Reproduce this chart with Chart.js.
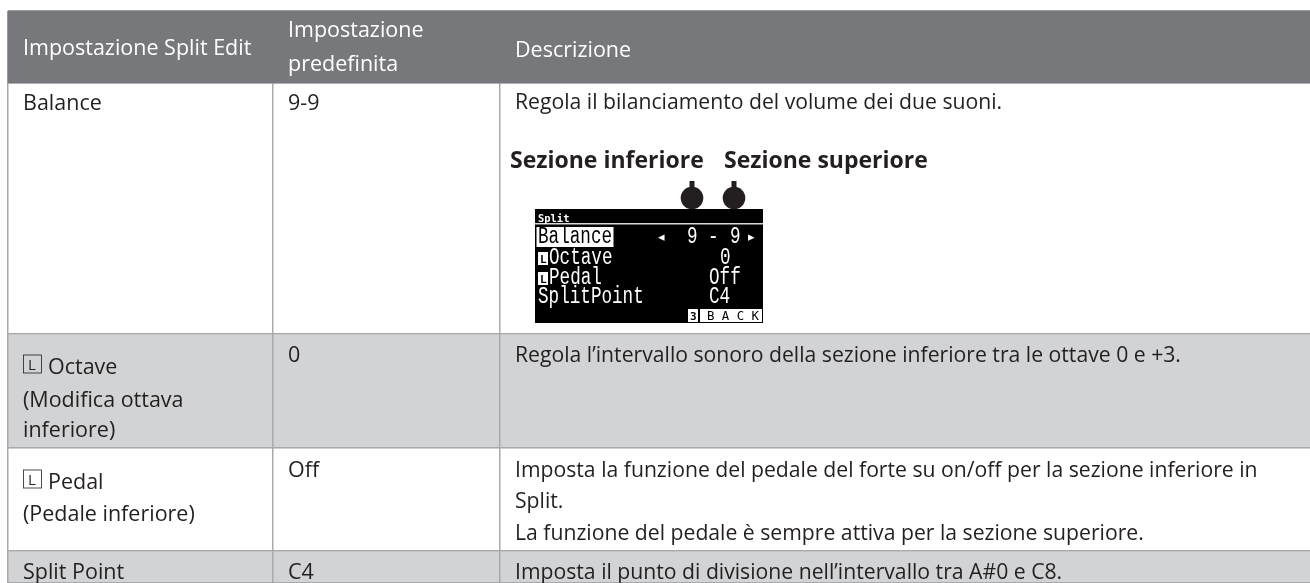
<!DOCTYPE html>
<html>
<head>
<meta charset="utf-8">
<style>
html, body { margin: 0; padding: 0; background: #fff; }
canvas { display: block; }
</style>
<script src="https://cdn.jsdelivr.net/npm/chart.js@4"></script>
</head>
<body>
<canvas id="myChart" width="1310" height="583"></canvas>
<script>
// table grid
rowEdges = [11, 83, 334, 448, 551, 583]
rowColors = ['#77787b', '#ffffff', '#d1d3d4', '#ffffff', '#d1d3d4']
colEdges = [8, 272.5, 499.5]

// column 1, 2 and 3 text, one entry per line: [row baseline, text]
headerCol1 = [[55, 'Impostazione Split Edit']]
headerCol2 = [[37, 'Impostazione'], [71, 'predefinita']]
headerCol3 = [[57, 'Descrizione']]
settings = [[110, 'Balance'], [407, '(Modifica ottava'], [437, 'inferiore)'], [521, '(Pedale inferiore)'], [579, 'Split Point']]
keyedSettings = [[374, 'Octave'], [489, 'Pedal']]
defaults = [[110, '9-9'], [362, '0'], [477, 'Off'], [579, 'C4']]
descriptions = [
  [109, 'Regola il bilanciamento del volume dei due suoni.'],
  [362, 'Regola l\u2019intervallo sonoro della sezione inferiore tra le ottave 0 e +3.'],
  [477, 'Imposta la funzione del pedale del forte su on/off per la sezione inferiore in'],
  [508, 'Split.'],
  [540, 'La funzione del pedale \u00e8 sempre attiva per la sezione superiore.'],
  [579, 'Imposta il punto di divisione nell\u2019intervallo tra A#0 e C8.']
]
sectionLabels = [[510, 168, 'Sezione inferiore'], [724, 168, 'Sezione superiore']]
pointerX = [692, 734]

lcdBox = [535, 209, 763, 323]
lcdRows = [[538, 243, 'Balance'], [549, 264, 'Octave'], [549, 284, 'Pedal'], [538, 303, 'SplitPoint'],
           [687, 243, '9'], [708, 243, '-'], [730, 243, '9'],
           [720, 264, '0'], [709, 284, 'Off'], [709, 303, 'C4']]

FONT = '"Open Sans", sans-serif'

function drawLine(ctx, x, y, text, font, color, squeeze) {
    ctx.save()
    ctx.translate(x, y)
    ctx.scale(squeeze, 1)
    ctx.font = font
    ctx.fillStyle = color
    ctx.textBaseline = 'alphabetic'
    ctx.fillText(text, 0, 0)
    ctx.restore()
}

const tablePlugin = {
    id: 'tablePlugin',
    afterDraw(chart) {
        const ctx = chart.ctx
        const px = v => chart.scales.x2.getPixelForValue(v)
        const py = v => chart.scales.y.getPixelForValue(v)

        // header band goes back over the column lines
        chart.getDatasetMeta(0).data[0].draw(ctx)

        const body = '22.4px ' + FONT
        const col1 = px(colEdges[0]) + 15, col2 = px(colEdges[1]) + 15.5, col3 = px(colEdges[2]) + 15.5
        const sq = 0.96, sqDesc = 0.946

        headerCol1.forEach(l => drawLine(ctx, col1, py(l[0]), l[1], body, '#ffffff', sq))
        headerCol2.forEach(l => drawLine(ctx, col2, py(l[0]), l[1], body, '#ffffff', sq))
        headerCol3.forEach(l => drawLine(ctx, col3, py(l[0]), l[1], body, '#ffffff', sq))
        settings.forEach(l => drawLine(ctx, col1, py(l[0]), l[1], body, '#231f20', sq))
        defaults.forEach(l => drawLine(ctx, col2, py(l[0]), l[1], body, '#231f20', sq))
        descriptions.forEach(l => drawLine(ctx, col3, py(l[0]), l[1], body, '#231f20', sqDesc))

        keyedSettings.forEach(l => {
            ctx.strokeStyle = '#231f20'
            ctx.lineWidth = 0.8
            ctx.strokeRect(col1 + 0.5, py(l[0]) - 19, 18, 18)
            drawLine(ctx, col1 + 5, py(l[0]) - 4, 'L', '15px ' + FONT, '#231f20', 1)
            drawLine(ctx, col1 + 25, py(l[0]), l[1], body, '#231f20', sq)
        })

        sectionLabels.forEach(l => drawLine(ctx, px(l[0]), py(l[1]), l[2], 'bold 23px ' + FONT, '#231f20', 1))

        // pointers from the section labels down to the display
        pointerX.forEach(x => {
            ctx.fillStyle = '#231f20'
            ctx.fillRect(px(x) - 2.5, py(181), 5, 17)
            ctx.beginPath()
            ctx.arc(px(x), py(198), 11.3, 0, Math.PI * 2)
            ctx.fill()
        })

        // display inset
        const x0 = px(lcdBox[0]), y0 = py(lcdBox[1]), x1 = px(lcdBox[2]), y1 = py(lcdBox[3])
        ctx.fillStyle = '#000000'
        ctx.fillRect(x0, y0, x1 - x0, y1 - y0)
        ctx.fillStyle = '#d8d8d8'
        ctx.fillRect(x0, y0 + 14, x1 - x0, 1.5)
        ctx.fillStyle = '#ffffff'
        ctx.fillRect(x0 + 1.5, y0 + 18, 77, 20)
        ctx.fillRect(x0 + 153, y1 - 14, 74, 13)
        ctx.fillRect(x0 + 3, y0 + 43, 10, 13)
        ctx.fillRect(x0 + 3, y0 + 63, 10, 13)
        ctx.fillStyle = '#000000'
        ctx.fillRect(x0 + 163, y1 - 14, 2, 13)

        const mono = '23.5px "Liberation Mono", monospace'
        drawLine(ctx, x0 + 3, y0 + 13, 'Split', 'bold 11px "DejaVu Sans Mono", monospace', '#ffffff', 0.95)
        lcdRows.forEach((l, i) => drawLine(ctx, px(l[0]), py(l[1]), l[2], mono, i == 0 ? '#000000' : '#ffffff', 0.75))
        drawLine(ctx, x0 + 5, y0 + 54, 'L', 'bold 11px "DejaVu Sans Mono", monospace', '#000000', 1)
        drawLine(ctx, x0 + 5, y0 + 74, 'L', 'bold 11px "DejaVu Sans Mono", monospace', '#000000', 1)
        drawLine(ctx, x0 + 155, y1 - 3, '3', 'bold 11px "DejaVu Sans Mono", monospace', '#000000', 1)
        drawLine(ctx, x0 + 172, y1 - 3, 'B A C K', '13px "DejaVu Sans Mono", monospace', '#000000', 0.95)
        drawLine(ctx, x0 + 123, y0 + 32, '\u25c2', '13px "DejaVu Sans", sans-serif', '#ffffff', 1)
        drawLine(ctx, x0 + 213, y0 + 32, '\u25b8', '13px "DejaVu Sans", sans-serif', '#ffffff', 1)
    }
}

rowDatasets = rowColors.map((color, i) => ({
    data: [[rowEdges[i], rowEdges[i + 1]]],
    backgroundColor: color,
    borderWidth: 0,
    barPercentage: 1,
    categoryPercentage: 1
}))

var ctx = document.getElementById('myChart').getContext('2d');
chartOne = new Chart(ctx, {
    type: 'bar',
    data: {
        labels: [''],
        datasets: rowDatasets
    },
    plugins: [tablePlugin],
    options: {
        responsive: false,
        animation: false,
        layout: { autoPadding: false, padding: { left: 8, top: 11 } },
        plugins: { legend: { display: false }, tooltip: { enabled: false } },
        scales: {
            x: { stacked: true, display: false, offset: true },
            x2: {
                type: 'linear',
                position: 'top',
                offset: false,
                min: 8,
                max: 1310,
                afterBuildTicks: axis => { axis.ticks = colEdges.map(v => ({ value: v })) },
                ticks: { display: false },
                border: { display: false },
                grid: { offset: false, color: '#a7a9ac', lineWidth: 1.5, drawTicks: false, z: 1 }
            },
            y: {
                type: 'linear',
                reverse: true,
                min: 11,
                max: 583,
                afterBuildTicks: axis => { axis.ticks = rowEdges.map(v => ({ value: v })) },
                ticks: { display: false },
                border: { display: false },
                grid: { color: '#a7a9ac', lineWidth: 1.5, drawTicks: false, z: 1 }
            }
        }
    }
})
</script>
</body>
</html>
